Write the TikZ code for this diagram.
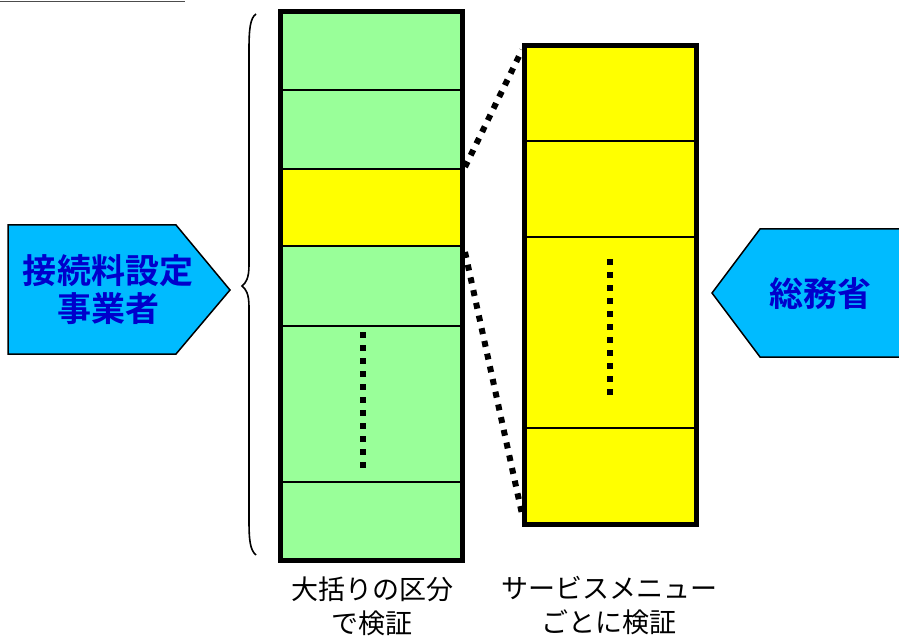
\documentclass[tikz,border=0pt]{standalone}
\usepackage{fontspec}
\newfontfamily\jpfont{Noto Sans CJK JP}
\newfontfamily\jpbold{Noto Sans CJK JP Bold}
\definecolor{boxgreen}{RGB}{153,255,153}
\definecolor{boxyellow}{RGB}{255,255,0}
\definecolor{arrowcyan}{RGB}{0,187,255}
\definecolor{textblue}{RGB}{0,0,204}
\tikzset{
  colbox/.style={draw=black, line width=5pt},
  rowline/.style={draw=black, line width=1.5pt},
  pent/.style={draw=black, line width=1.5pt, fill=arrowcyan},
  bluetext/.style={text=textblue, font=\jpbold\fontsize{34}{40}\selectfont, align=center, inner sep=0pt},
  caption/.style={text=black, font=\jpfont\fontsize{27}{34}\selectfont, align=center, inner sep=0pt},
  dotline/.style={draw=black, line width=6pt, dash pattern=on 6pt off 7pt},
  bracestyle/.style={draw=black, line width=1.6pt},
}
\begin{document}
\begin{tikzpicture}[x=1pt,y=-1pt]
\useasboundingbox (0,0) rectangle (899,636);
\clip (0,0) rectangle (899,636);

% top-left rule
\draw[draw=black!70, line width=1.2pt] (0,1.5) -- (185,1.5);

% left column
\fill[boxgreen] (280,11.5) rectangle (462.5,560);
\fill[boxyellow] (280,169) rectangle (462.5,246);
\foreach \yy in {90,169,246,326,482} \draw[rowline] (280,\yy) -- (462.5,\yy);
\draw[colbox] (280,11.5) rectangle (462.5,560);

% right column
\fill[boxyellow] (524,45.5) rectangle (696,524.5);
\foreach \yy in {141,237,428} \draw[rowline] (524,\yy) -- (696,\yy);
\draw[colbox] (524,45.5) rectangle (696,524.5);

% coordinates for connectors
\coordinate (yt) at (465,167);
\coordinate (yb) at (465,252);
\coordinate (rt) at (522,50);
\coordinate (rb) at (522,514);
\draw[dotline] (yt) -- (rt);
\draw[dotline] (yb) -- (rb);

% vertical dotted lines inside columns
\coordinate (lv1) at (363,332);
\coordinate (lv2) at (363,470);
\coordinate (rv1) at (610,259);
\coordinate (rv2) at (610,397);
\draw[dotline] (lv1) -- (lv2);
\draw[dotline] (rv1) -- (rv2);

% brace
\draw[bracestyle] (256,14) .. controls (250,18) and (249,30) .. (249,50)
  -- (249,265) .. controls (249,278) and (246,283) .. (242,286)
  .. controls (246,289) and (249,294) .. (249,307)
  -- (249,520) .. controls (249,540) and (250,550) .. (256,555);

% left pentagon arrow
\draw[pent] (8,225) -- (176,225) -- (230,290) -- (176,354) -- (8,354) -- cycle;
\node[bluetext] (op) at (108,290) {接続料設定\\[-2pt]事業者};

% right pentagon arrow
\draw[pent] (905,229) -- (760,229) -- (712,293) -- (760,357) -- (905,357) -- cycle;
\node[bluetext] (mic) at (820,294) {総務省};

% captions
\node[caption] (cap1) at (372,606) {大括りの区分\\で検証};
\node[caption] (cap2) at (609,606) {サービスメニュー\\ごとに検証};
\end{tikzpicture}
\end{document}
